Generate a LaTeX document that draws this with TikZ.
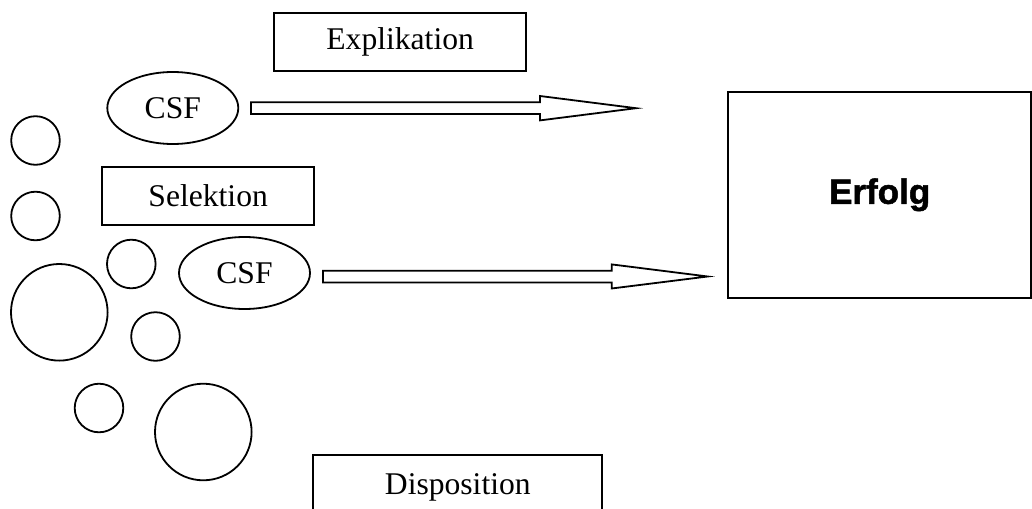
\documentclass[tikz,border=0pt]{standalone}
\usepackage{fontspec}
\setmainfont{Liberation Serif}
\newfontfamily\erffont{Liberation Sans}[BoldFeatures={FakeBold=1.5}]
\usetikzlibrary{shapes.geometric}
\begin{document}
\begin{tikzpicture}[x=0.5pt,y=-0.5pt,
  every path/.style={line width=0.9pt},
  lbl/.style={font=\fontsize{15.8pt}{18pt}\selectfont},
  rbox/.style={draw, rectangle, lbl, inner sep=0pt},
  csf/.style={draw, ellipse, lbl, inner sep=0pt, minimum width=65.5pt, minimum height=36pt},
  smallc/.style={draw, circle, inner sep=0pt, minimum size=24.3pt},
  bigc/.style={draw, circle, inner sep=0pt, minimum size=48.3pt},
  blockarrow/.style={draw, line join=miter}
]
\useasboundingbox (0,0) rectangle (1032,508);

\node[rbox, minimum width=125.85pt, minimum height=28.85pt] (expl) at (400.15,42.15) {Explikation};
\node[rbox, minimum width=105.85pt, minimum height=28.7pt] (sel) at (208.15,196) {Selektion};
\node[rbox, minimum width=144.5pt, minimum height=32.5pt] (disp) at (457.8,487.5) {Disposition};
\node[draw, rectangle, inner sep=0pt, minimum width=151.35pt, minimum height=103.15pt,
      font=\erffont\bfseries\fontsize{17.5pt}{20pt}\selectfont] (erfolg) at (879.65,194.85) {\raisebox{3pt}{Erfolg}};

\node[csf] (csf1) at (172.8,108) {CSF};
\node[csf] (csf2) at (244.5,273) {CSF};

\node[smallc] (c1) at (35.5,140.5) {};
\node[smallc] (c2) at (35.5,216) {};
\node[smallc] (c3) at (131.3,264) {};
\node[bigc]   (c4) at (59.3,312.3) {};
\node[smallc] (c5) at (155.5,336.5) {};
\node[smallc] (c6) at (99,408) {};
\node[bigc]   (c7) at (203.3,432) {};

\coordinate (a1s) at (251,108.2);
\coordinate (a1t) at (636,108.2);
\coordinate (a2s) at (323,276.7);
\coordinate (a2t) at (707.7,276.5);

\draw[blockarrow] (a1s) ++(0,-5.9) -- ++(289,0) -- ++(0,-6.3) -- (a1t)
  -- ++(-96,12.2) -- ++(0,-6.3) -- ++(-289,0) -- cycle;
\draw[blockarrow] (a2s) ++(0,-6) -- ++(288.7,0) -- ++(0,-6.3) -- (a2t)
  -- ++(-96,12) -- ++(0,-6) -- ++(-288.7,0) -- cycle;
\end{tikzpicture}
\end{document}
